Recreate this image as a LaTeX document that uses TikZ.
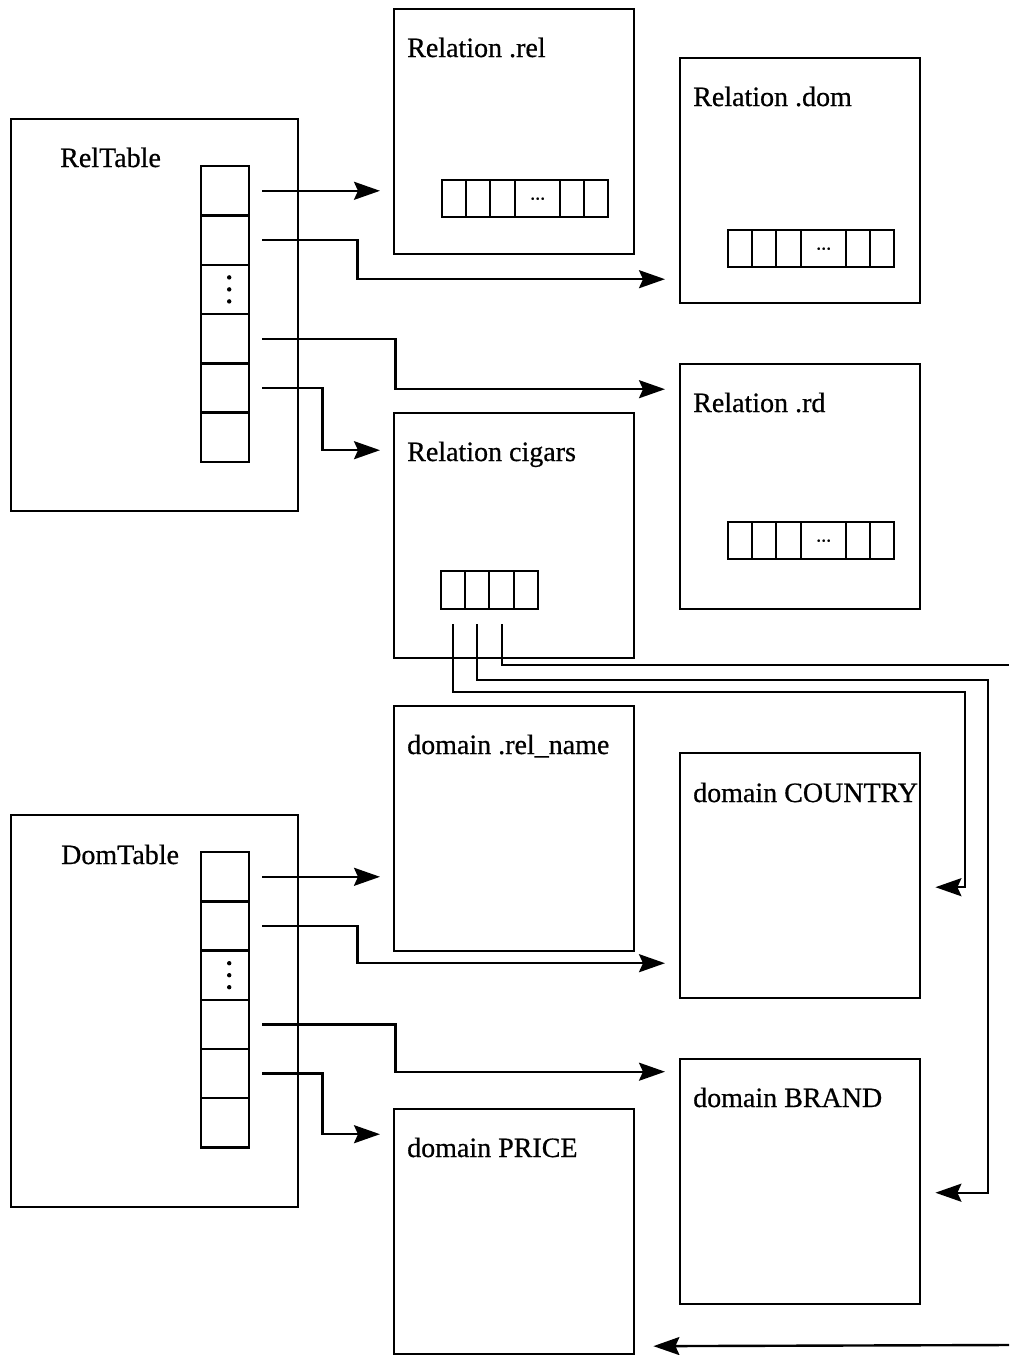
\documentclass[tikz,border=0pt]{standalone}
\usepackage{fontspec}
\setmainfont{Liberation Serif}
\newfontfamily\lblfont{Liberation Serif}[UprightFeatures={FakeBold=0.6}]
\usetikzlibrary{arrows.meta,calc}
\begin{document}
\begin{tikzpicture}[x=0.5pt,y=-0.5pt,
  line width=1.2pt,
  bigbox/.style={draw, anchor=north west, inner sep=0, minimum width=120pt, minimum height=122.5pt},
  tablebox/.style={draw, anchor=north west, inner sep=0, minimum width=143.5pt, minimum height=196pt},
  cell/.style={draw, anchor=north west, inner sep=0},
  vcell/.style={cell, minimum width=24pt, minimum height=24.6pt},
  lbl/.style={anchor=base west, inner sep=0, font=\lblfont\fontsize{14}{16}\selectfont},
  arr/.style={-{Stealth[length=13pt,width=9pt,inset=2pt]}},
  dots/.style={font=\lblfont\fontsize{10}{12}\selectfont},
  dotmark/.style={fill, circle, inner sep=0, minimum size=2.2pt}
]
\useasboundingbox (0,0) rectangle (1009,1355);

% ---------- big boxes ----------
\node[tablebox] (reltable) at (10,118) {};
\node[tablebox] (domtable) at (10,814) {};
\node[bigbox] (rel) at (393,8) {};
\node[bigbox] (dom) at (679,57) {};
\node[bigbox] (rd) at (679,363) {};
\node[bigbox] (cig) at (393,412) {};
\node[bigbox] (relname) at (393,705) {};
\node[bigbox] (country) at (679,752) {};
\node[bigbox] (brand) at (679,1058) {};
\node[bigbox] (price) at (393,1108) {};

% ---------- labels ----------
\node[lbl] (lreltable) at (59,167) {RelTable};
\node[lbl] (ldomtable) at (60,864) {DomTable};
\node[lbl] (lrel) at (406,57) {Relation .rel};
\node[lbl] (ldom) at (692,106) {Relation .dom};
\node[lbl] (lrd) at (692,412) {Relation .rd};
\node[lbl] (lcig) at (406,461) {Relation cigars};
\node[lbl] (lrelname) at (406,754) {domain .rel\_name};
\node[lbl] (lcountry) at (692,802) {domain COUNTRY};
\node[lbl] (lbrand) at (692,1107) {domain BRAND};
\node[lbl] (lprice) at (406,1157) {domain PRICE};

% ---------- vertical tables ----------
\foreach \i in {1,...,6}{
  \node[vcell] (rc-\i) at (200,{165+49.3*(\i-1)}) {};
  \node[vcell] (dc-\i) at (200,{851+49.2*(\i-1)}) {};
}
\foreach \t in {rc-3, dc-3}{
  \node[dotmark] (\t-d1) at ($(\t.center)+(4,-12)$) {};
  \node[dotmark] (\t-d2) at ($(\t.center)+(4,0)$) {};
  \node[dotmark] (\t-d3) at ($(\t.center)+(4,12)$) {};
}

% ---------- horizontal arrays (6 cells) ----------
\foreach \p/\x/\y in {rel/441/179, dom/727/229, rd/727/521}{
  \foreach \i/\dx/\w in {1/0/24,2/24/24,3/48/25,5/118/24,6/142/24}{
    \node[cell, minimum width=\w*0.5pt, minimum height=18.5pt] (\p-\i) at (\x+\dx,\y) {};
  }
  \node[cell, dots, minimum width=22.5pt, minimum height=18.5pt] (\p-4) at (\x+73,\y) {...};
}
% cigars array (4 cells)
\foreach \i/\dx/\w in {1/0/24,2/24/24,3/48/25,4/73/24}{
  \node[cell, minimum width=\w*0.5pt, minimum height=19pt] (cc-\i) at (440+\dx,570) {};
}

% ---------- RelTable connectors ----------
\draw[arr, shorten <=6pt, shorten >=6.5pt] (rc-1.east) -- (rel.west |- rc-1.east);
\draw[arr, shorten <=6pt, shorten >=7pt] (rc-2.east) -- ++(107,0) |- ($(dom.west)+(0,98.5)$);
\draw[arr, shorten <=6pt, shorten >=7pt] (rc-4.east) -- ++(145,0) |- ($(rd.west)+(0,-97.5)$);
\draw[arr, shorten <=6pt, shorten >=6.5pt] (rc-5.east) -- ++(72,0) |- ($(cig.west)+(0,-85.5)$);

% ---------- DomTable connectors ----------
\draw[arr, shorten <=6pt, shorten >=6.5pt] (dc-1.east) -- (relname.west |- dc-1.east);
\draw[arr, shorten <=6pt, shorten >=7pt] (dc-2.east) -- ++(107,0) |- ($(country.west)+(0,87.5)$);
\draw[arr, shorten <=6pt, shorten >=7pt] (dc-4.east) -- ++(145,0) |- ($(brand.west)+(0,-110)$);
\draw[arr, shorten <=6pt, shorten >=6.5pt] (dc-5.east) -- ++(72,0) |- ($(price.west)+(0,-97.5)$);

% ---------- cigars connectors ----------
\coordinate (bendA) at (965,692);
\coordinate (bendB) at (988,680);
\coordinate (edgeA) at (1009,665);
\coordinate (edgeB) at (1009,1345);
\draw[arr, shorten <=7pt, shorten >=7pt] (cc-1.south) |- (bendA) |- ($(country.east)+(0,11.5)$);
\draw[arr, shorten <=7pt, shorten >=7pt] (cc-2.south) |- (bendB) |- ($(brand.east)+(0,11)$);
\draw[shorten <=7pt] (cc-3.south) |- (edgeA);
\draw[arr, shorten >=9pt] (edgeB) -- ($(price.east)+(0,114.5)$);
\end{tikzpicture}
\end{document}
